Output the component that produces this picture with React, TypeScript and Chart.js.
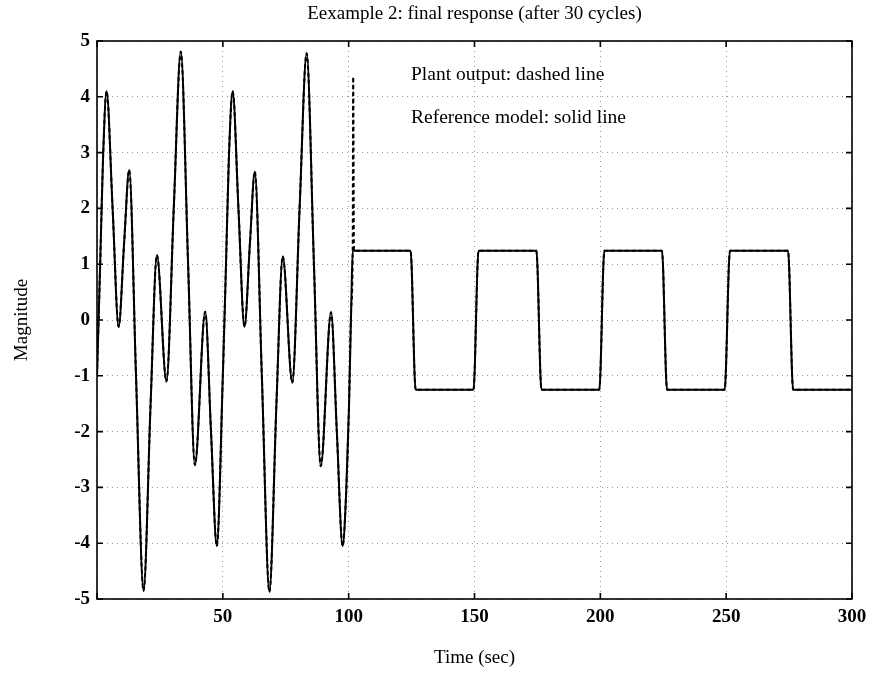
import React, { useEffect, useRef } from 'react';
import { Chart, registerables } from 'chart.js';

Chart.register(...registerables);

// ---- data ----
const xTickValues = [0, 50, 100, 150, 200, 250, 300];
const yTickValues = [-5, -4, -3, -2, -1, 0, 1, 2, 3, 4, 5];

// Reference model output (solid line)
const refTime = [
  0, 1.2, 2.4, 3.8, 6.2, 8.6, 10.8, 12.8, 15.5, 18.5, 21.3, 23.8, 27.6, 30.5, 33.3, 36.2, 38.9, 43.0, 45.3, 47.6,
  50.0, 51.2, 52.4, 53.9, 56.2, 58.6, 60.8, 62.7, 65.5, 68.5, 71.3, 73.8, 77.6, 80.5, 83.3, 86.2, 88.9, 93.0, 95.3, 97.6,
  99.0, 100.1, 101.0, 101.6,
  124.6, 126.6, 149.6, 151.6, 174.6, 176.6, 199.6, 201.6, 224.5, 226.5, 249.4, 251.5, 274.6, 276.6, 300,
];
const refValue = [
  -1.0, 0.9, 2.9, 4.1, 2.0, -0.12, 1.4, 2.69, -1.0, -4.85, -1.5, 1.16, -1.1, 2.0, 4.81, 1.0, -2.6, 0.15, -2.0, -4.05,
  -1.0, 0.9, 2.9, 4.1, 2.0, -0.12, 1.4, 2.66, -1.0, -4.87, -1.5, 1.14, -1.12, 2.0, 4.78, 1.0, -2.62, 0.14, -2.0, -4.05,
  -3.1, -1.6, 0.2, 1.24,
  1.24, -1.25, -1.25, 1.24, 1.24, -1.25, -1.25, 1.24, 1.24, -1.25, -1.25, 1.24, 1.24, -1.25, -1.25,
];

// Plant output (dashed line): follows the reference except a short spike after t = 100
const plantSpikeTime = [101.6, 101.8, 102.1];
const plantSpikeValue = [1.24, 4.36, 1.24];

const titleText = 'Eexample 2: final response (after 30 cycles)';
const xTitle = 'Time (sec)';
const yTitle = 'Magnitude';
const note1 = 'Plant output: dashed line';
const note2 = 'Reference model: solid line';

const FONT = '"Liberation Serif", "Times New Roman", serif';

export default function App() {
  const canvasRef = useRef<HTMLCanvasElement | null>(null);

  useEffect(() => {
    document.body.style.margin = '0';
    const canvas = canvasRef.current;
    if (!canvas) return;

    const refData = refTime.map((t, i) => ({ x: t, y: refValue[i] }));
    const spikeStart = plantSpikeTime[0];
    const spikeEnd = plantSpikeTime[plantSpikeTime.length - 1];
    const plantData = [
      ...refData.filter((p) => p.x < spikeStart),
      ...plantSpikeTime.map((t, i) => ({ x: t, y: plantSpikeValue[i] })),
      ...refData.filter((p) => p.x > spikeEnd),
    ];

    const framePlugin = {
      id: 'frame',
      afterDraw(chart: any) {
        const { ctx, chartArea, scales } = chart;
        const { left, right, top, bottom } = chartArea;
        const xs = scales.x;
        const ys = scales.y;
        ctx.save();
        ctx.strokeStyle = '#000';
        ctx.lineWidth = 1.6;
        ctx.setLineDash([]);
        ctx.strokeRect(left, top, right - left, bottom - top);
        const tl = 6;
        ctx.beginPath();
        xTickValues.forEach((v) => {
          const px = xs.getPixelForValue(v);
          ctx.moveTo(px, bottom);
          ctx.lineTo(px, bottom - tl);
          ctx.moveTo(px, top);
          ctx.lineTo(px, top + tl);
        });
        yTickValues.forEach((v) => {
          const py = ys.getPixelForValue(v);
          ctx.moveTo(left, py);
          ctx.lineTo(left + tl, py);
          ctx.moveTo(right, py);
          ctx.lineTo(right - tl, py);
        });
        ctx.stroke();

        ctx.fillStyle = '#000';
        const cx = (left + right) / 2;
        ctx.textAlign = 'center';
        ctx.textBaseline = 'middle';
        ctx.font = `19px ${FONT}`;
        ctx.fillText(titleText, cx, 14);
        ctx.fillText(xTitle, cx, 658);
        ctx.save();
        ctx.translate(22, (top + bottom) / 2);
        ctx.rotate(-Math.PI / 2);
        ctx.fillText(yTitle, 0, 0);
        ctx.restore();

        ctx.textAlign = 'left';
        ctx.font = `19.5px ${FONT}`;
        ctx.fillText(note1, 411, 75);
        ctx.fillText(note2, 411, 118);
        ctx.restore();
      },
    };

    const chart = new Chart(canvas, {
      type: 'line',
      data: {
        datasets: [
          {
            label: 'Reference model',
            data: refData,
            borderColor: '#000',
            borderWidth: 2,
            pointRadius: 0,
            cubicInterpolationMode: 'monotone',
            fill: false,
          },
          {
            label: 'Plant output',
            data: plantData,
            borderColor: '#000',
            borderWidth: 2,
            borderDash: [4, 3],
            pointRadius: 0,
            cubicInterpolationMode: 'monotone',
            fill: false,
          },
        ],
      },
      options: {
        responsive: false,
        animation: false,
        events: [],
        layout: { padding: { top: 41, right: 22, left: 0, bottom: 0 } },
        plugins: {
          legend: { display: false },
          title: { display: false },
          tooltip: { enabled: false },
        },
        scales: {
          x: {
            type: 'linear',
            min: 0,
            max: 300,
            afterFit: (s: any) => {
              s.height = 76;
            },
            afterBuildTicks: (s: any) => {
              s.ticks = xTickValues.map((v) => ({ value: v }));
            },
            ticks: {
              color: '#000',
              font: { family: FONT, size: 19, weight: 'bold' },
              padding: 7,
              maxRotation: 0,
              callback: (v: any) => (Number(v) === 0 ? '' : String(v)),
            },
            grid: { color: '#9a9a9a', lineWidth: 1, drawTicks: false },
            border: { display: false, dash: [1, 4] },
          },
          y: {
            type: 'linear',
            min: -5,
            max: 5,
            afterFit: (s: any) => {
              s.width = 97;
            },
            afterBuildTicks: (s: any) => {
              s.ticks = yTickValues.map((v) => ({ value: v }));
            },
            ticks: {
              color: '#000',
              font: { family: FONT, size: 19, weight: 'bold' },
              padding: 7,
              callback: (v: any) => String(v),
            },
            grid: { color: '#9a9a9a', lineWidth: 1, drawTicks: false },
            border: { display: false, dash: [1, 4] },
          },
        },
      },
      plugins: [framePlugin],
    });

    return () => {
      chart.destroy();
    };
  }, []);

  return (
    <div style={{ width: 874, height: 675, background: '#fff' }}>
      <canvas ref={canvasRef} width={874} height={675} />
    </div>
  );
}
